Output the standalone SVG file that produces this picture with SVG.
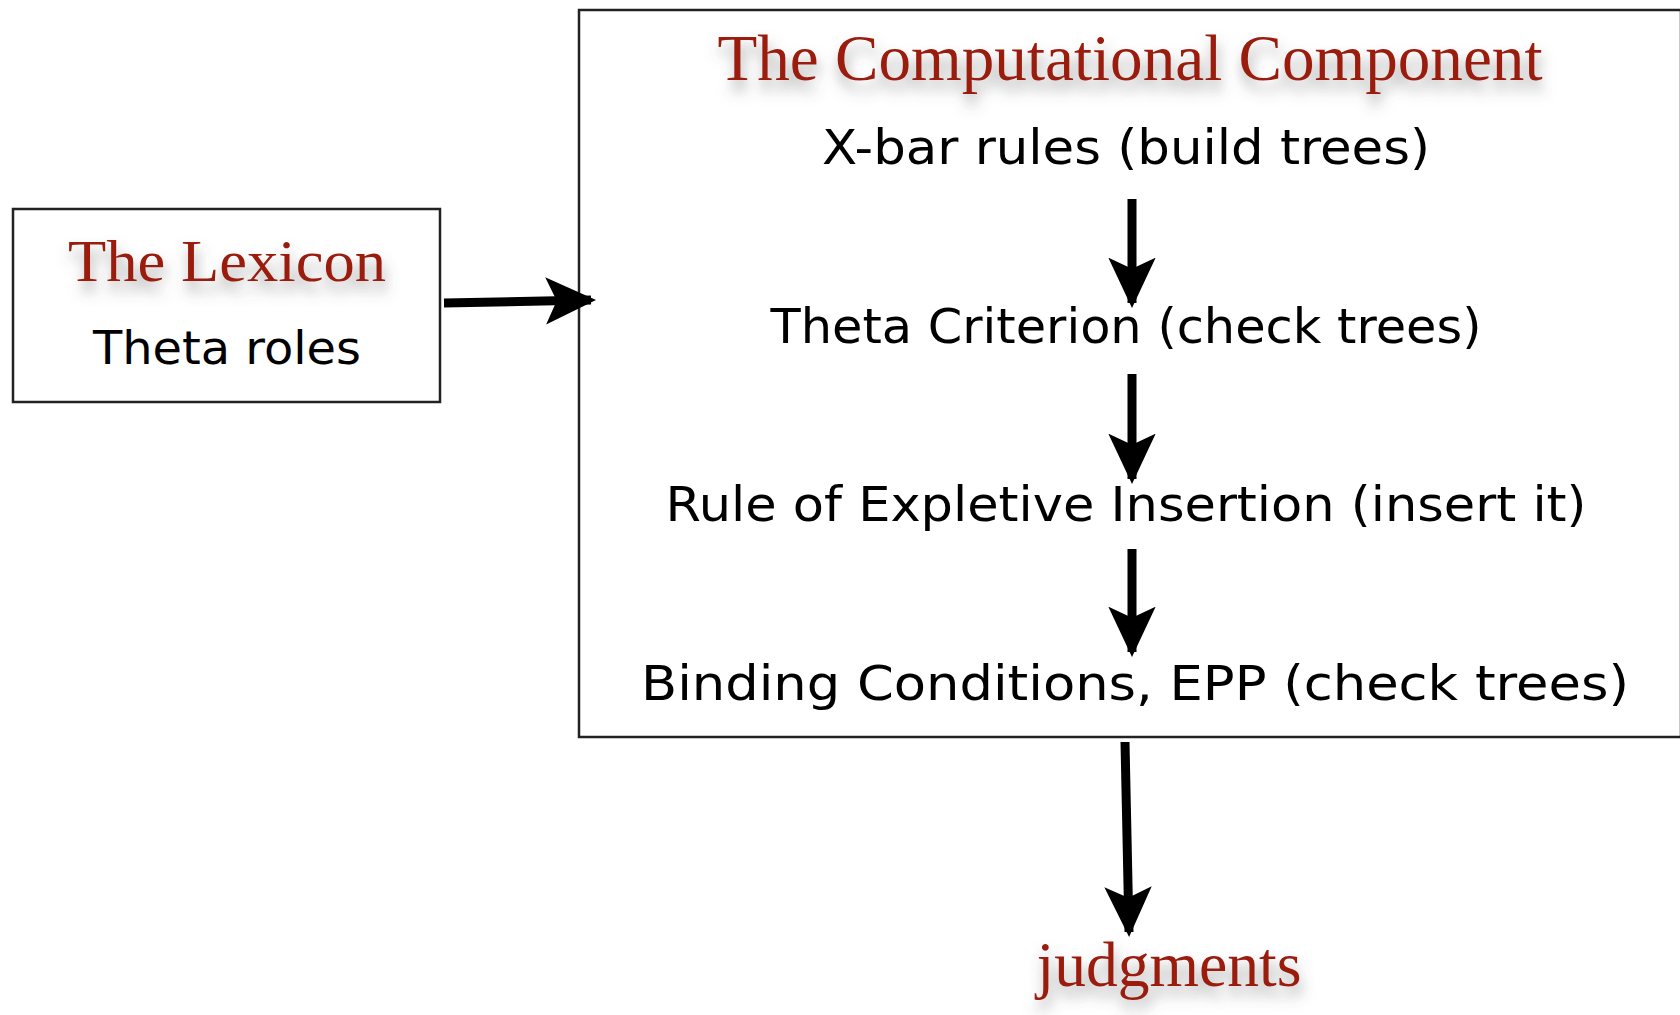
<svg xmlns="http://www.w3.org/2000/svg" width="1680" height="1015" viewBox="0 0 1680 1015">
<defs>
<style>
.box{fill:#fff;stroke:#222;stroke-width:2.5}
.title{font-family:"Liberation Serif","DejaVu Serif",serif;fill:#9a1a0c;filter:url(#shadow)}
.hand{font-family:"DejaVu Sans","Liberation Sans",sans-serif;fill:#000}
.conn{stroke:#000;stroke-width:9;fill:none}
</style>
<filter id="shadow" x="-10%" y="-30%" width="120%" height="180%">
<feDropShadow dx="2" dy="10" stdDeviation="7" flood-color="#555" flood-opacity="0.55"/>
</filter>
<marker id="ah" viewBox="0 0 10 10" refX="9" refY="5" markerWidth="5.6" markerHeight="5.6" orient="auto" markerUnits="strokeWidth">
<path d="M0,0.3 L10,5 L0,9.7 L2.2,5 Z" fill="#000"/>
</marker>
</defs>
<rect width="1680" height="1015" fill="#fff"/>
<g id="lexicon">
<rect class="box" x="13" y="209" width="427" height="193"/>
<text class="title" x="227" y="281" font-size="60" text-anchor="middle" textLength="318" lengthAdjust="spacingAndGlyphs">The Lexicon</text>
<text class="hand" x="227" y="364" font-size="46" text-anchor="middle" textLength="268" lengthAdjust="spacingAndGlyphs">Theta roles</text>
</g>
<g id="computational">
<rect class="box" x="579" y="10" width="1102" height="727"/>
<text class="title" x="1130" y="80" font-size="66" text-anchor="middle" textLength="825" lengthAdjust="spacingAndGlyphs">The Computational Component</text>
<text class="hand" x="1126" y="164" font-size="48" text-anchor="middle" textLength="608" lengthAdjust="spacingAndGlyphs">X-bar rules  (build trees)</text>
<text class="hand" x="1126" y="343" font-size="48" text-anchor="middle" textLength="711" lengthAdjust="spacingAndGlyphs">Theta Criterion  (check trees)</text>
<text class="hand" x="1126" y="521" font-size="48" text-anchor="middle" textLength="921" lengthAdjust="spacingAndGlyphs">Rule of Expletive Insertion (insert it)</text>
<text class="hand" x="1135" y="700" font-size="48" text-anchor="middle" textLength="988" lengthAdjust="spacingAndGlyphs">Binding Conditions, EPP (check trees)</text>
</g>
<g id="judgments">
<text class="title" x="1169" y="986" font-size="64" text-anchor="middle" textLength="265" lengthAdjust="spacingAndGlyphs">judgments</text>
</g>
<g id="connectors">
<line class="conn" x1="444" y1="303" x2="591" y2="300" marker-end="url(#ah)"/>
<line class="conn" x1="1132" y1="199" x2="1132" y2="303" marker-end="url(#ah)"/>
<line class="conn" x1="1132" y1="374" x2="1132" y2="479" marker-end="url(#ah)"/>
<line class="conn" x1="1132" y1="549" x2="1132" y2="652" marker-end="url(#ah)"/>
<line class="conn" x1="1125" y1="742" x2="1129" y2="932" marker-end="url(#ah)"/>
</g>
</svg>
